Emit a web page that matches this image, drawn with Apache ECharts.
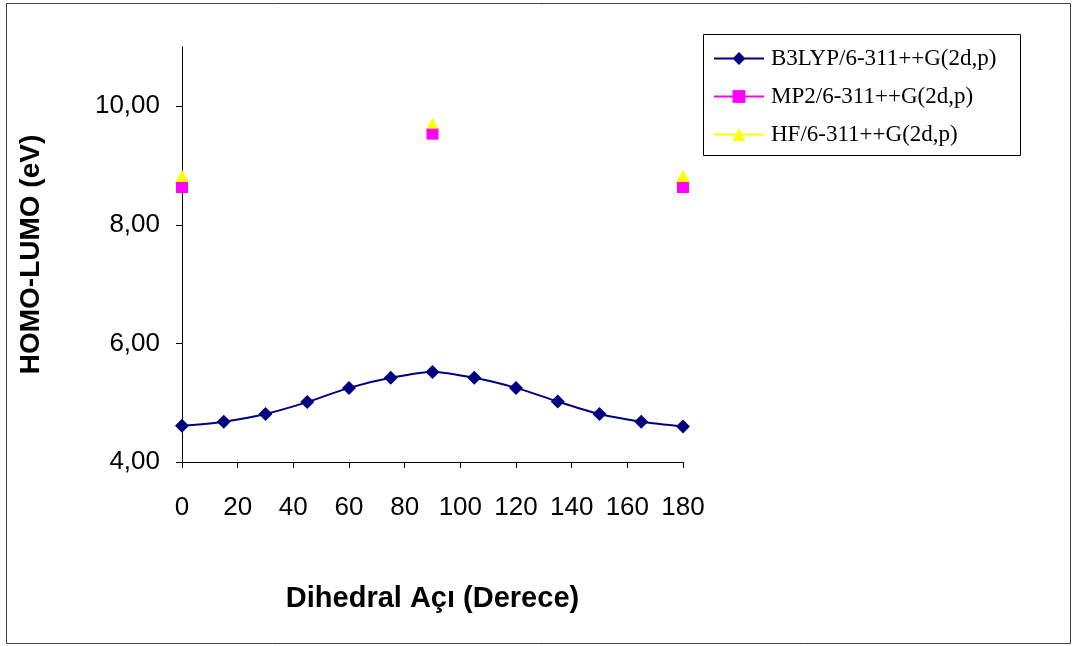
<!DOCTYPE html>
<html>
<head>
<meta charset="utf-8">
<script src="https://cdn.jsdelivr.net/npm/echarts@6/dist/echarts.min.js"></script>
<style>
  html, body { margin: 0; padding: 0; background: #fff; }
  #chart { width: 1076px; height: 646px; }
</style>
</head>
<body>
<div id="chart"></div>
<script>
// Dihedral angle (degrees) and HOMO-LUMO gap (eV) for three methods
const angles = [0, 15, 30, 45, 60, 75, 90, 105, 120, 135, 150, 165, 180];
const b3lyp = [4.61, 4.68, 4.81, 5.01, 5.25, 5.42, 5.52, 5.42, 5.25, 5.02, 4.81, 4.68, 4.60];
const mp2Angles = [0, 90, 180];
const mp2 = [8.63, 9.53, 8.63];
const hfAngles = [0, 90, 180];
const hf = [8.81, 9.69, 8.81];
const yTicks = [4, 6, 8, 10];

const names = ['B3LYP/6-311++G(2d,p)', 'MP2/6-311++G(2d,p)', 'HF/6-311++G(2d,p)'];
const colors = ['#000080', '#ff00ff', '#ffff00'];

const pairs = (xs, ys) => xs.map((x, i) => [x, ys[i]]);

const chart = echarts.init(document.getElementById('chart'), null, { renderer: 'canvas' });

chart.setOption({
  animation: false,
  backgroundColor: '#ffffff',
  grid: { left: 182, top: 47, right: 393, bottom: 184, containLabel: false },
  graphic: [
    {
      type: 'rect', shape: { x: 6.5, y: 3.5, width: 1064, height: 640 },
      style: { fill: 'none', stroke: '#404040', lineWidth: 1 }, silent: true, z: -1
    },
    {
      type: 'rect', shape: { x: 703.5, y: 34.5, width: 317, height: 121 },
      style: { fill: '#fff', stroke: '#000', lineWidth: 1 }, silent: true, z: 0
    }
  ],
  legend: {
    orient: 'vertical',
    left: 713,
    top: 47,
    itemWidth: 50,
    itemHeight: 16,
    itemGap: 15,
    padding: 0,
    z: 5,
    textStyle: { fontFamily: 'Liberation Serif', fontSize: 23, color: '#000', padding: [0, 0, 0, 2] },
    data: [
      { name: names[0], lineStyle: { width: 2, color: colors[0], opacity: 1 } },
      { name: names[1], lineStyle: { width: 2, color: colors[1], opacity: 1 } },
      { name: names[2], lineStyle: { width: 2, color: colors[2], opacity: 1 } }
    ]
  },
  xAxis: {
    type: 'value',
    min: 0, max: 180, interval: 20,
    name: 'Dihedral Açı (Derece)',
    nameLocation: 'middle',
    nameGap: 122,
    nameTextStyle: { fontFamily: 'Liberation Sans', fontSize: 29, fontWeight: 'bold', color: '#000' },
    axisLine: { show: true, onZero: false, lineStyle: { color: '#000', width: 1 } },
    axisTick: { show: true, length: 6, inside: false, lineStyle: { color: '#000' } },
    axisLabel: { fontFamily: 'Liberation Sans', fontSize: 26, color: '#000', margin: 33 },
    splitLine: { show: false }
  },
  yAxis: {
    type: 'value',
    min: 4, max: 11, interval: 1,
    name: 'HOMO-LUMO (eV)',
    nameLocation: 'middle',
    nameGap: 137,
    nameTextStyle: { fontFamily: 'Liberation Sans', fontSize: 28, fontWeight: 'bold', color: '#000' },
    axisLine: { show: true, onZero: false, lineStyle: { color: '#000', width: 1 } },
    axisTick: { show: true, length: 6, customValues: yTicks, lineStyle: { color: '#000' } },
    axisLabel: {
      fontFamily: 'Liberation Sans', fontSize: 26, color: '#000', margin: 22,
      customValues: yTicks,
      formatter: v => v.toFixed(2).replace('.', ',')
    },
    splitLine: { show: false }
  },
  series: [
    {
      name: names[0], type: 'line', smooth: 0.3,
      data: pairs(angles, b3lyp),
      symbol: 'diamond', symbolSize: 14,
      itemStyle: { color: colors[0] },
      lineStyle: { color: colors[0], width: 2 },
      z: 3
    },
    {
      name: names[1], type: 'line',
      data: pairs(mp2Angles, mp2),
      symbol: 'rect', symbolSize: [12, 11],
      itemStyle: { color: colors[1] },
      lineStyle: { opacity: 0 },
      z: 3
    },
    {
      name: names[2], type: 'line',
      data: pairs(hfAngles, hf),
      symbol: 'triangle', symbolSize: [15, 14],
      itemStyle: { color: colors[2] },
      lineStyle: { opacity: 0 },
      z: 2
    }
  ]
});
</script>
</body>
</html>
